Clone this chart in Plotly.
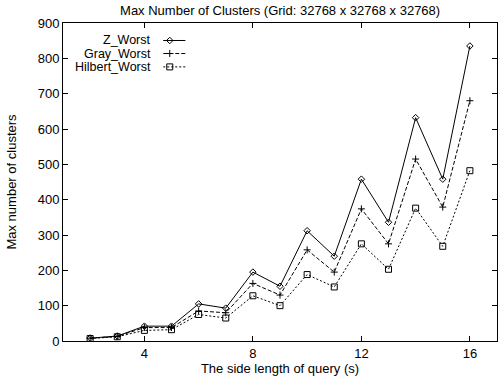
import plotly.graph_objects as go

# Query side length s
side = [2, 3, 4, 5, 6, 7, 8, 9, 10, 11, 12, 13, 14, 15, 16]

# Worst-case cluster counts per curve
z_worst = [8, 14, 42, 42, 105, 93, 195, 155, 312, 240, 458, 336, 632, 458, 835]
gray_worst = [8, 13, 38, 38, 85, 80, 163, 130, 258, 195, 374, 275, 515, 379, 680]
hilbert_worst = [7, 12, 30, 32, 75, 65, 128, 100, 188, 153, 275, 203, 376, 268, 482]

x_ticks = [4, 8, 12, 16]
y_ticks = [0, 100, 200, 300, 400, 500, 600, 700, 800, 900]

names = ["Z_Worst", "Gray_Worst", "Hilbert_Worst"]
dashes = ["solid", "4px,2px", "2px,2px"]
symbols = ["diamond-open", "cross-thin-open", "square-open"]
sizes = [5, 5, 6]
series = [z_worst, gray_worst, hilbert_worst]

FONT = "Liberation Sans, Arial, sans-serif"

fig = go.Figure()
for name, vals, dash, sym, sz in zip(names, series, dashes, symbols, sizes):
    fig.add_trace(go.Scatter(
        x=side, y=vals, name=name, mode="lines+markers",
        line=dict(color="black", width=1, dash=dash),
        marker=dict(symbol=sym, size=sz, color="black",
                    line=dict(color="black", width=1)),
        showlegend=False,
    ))

# Key in the upper-left corner: right-aligned labels followed by a line sample
key_y = [0.945, 0.904, 0.862]
for name, ky, dash, sym, sz in zip(names, key_y, dashes, symbols, sizes):
    fig.add_annotation(x=0.207, y=ky, xref="paper", yref="paper",
                       text=name, showarrow=False, xanchor="right",
                       yanchor="middle", font=dict(family=FONT, size=12.5, color="black"))
    fig.add_trace(go.Scatter(
        x=[0.231, 0.282], y=[ky, ky], xaxis="x2", yaxis="y2",
        mode="lines", line=dict(color="black", width=1, dash=dash),
        showlegend=False, hoverinfo="skip"))
    fig.add_trace(go.Scatter(
        x=[0.246], y=[ky], xaxis="x2", yaxis="y2", mode="markers",
        marker=dict(symbol=sym, size=sz, color="black",
                    line=dict(color="black", width=1)),
        showlegend=False, hoverinfo="skip"))

axis_common = dict(
    showgrid=False, zeroline=False, showline=True, linecolor="black",
    linewidth=1, mirror="ticks", ticks="inside", ticklen=5,
    tickcolor="black", tickfont=dict(family=FONT, size=13, color="black"),
)

fig.update_layout(
    width=498, height=379,
    margin=dict(l=63, r=1, t=23, b=38),
    paper_bgcolor="white", plot_bgcolor="white",
    title=dict(text="Max Number of Clusters (Grid: 32768 x 32768 x 32768)",
               x=0.5625, xanchor="center", y=0.973, yanchor="middle",
               font=dict(family=FONT, size=13, color="black")),
    xaxis=dict(range=[1, 17], tickvals=x_ticks,
               title=dict(text="The side length of query (s)", standoff=1,
                          font=dict(family=FONT, size=13, color="black")),
               **axis_common),
    yaxis=dict(range=[0, 900], tickvals=y_ticks,
               title=dict(text="Max number of clusters", standoff=18,
                          font=dict(family=FONT, size=13, color="black")),
               **axis_common),
    xaxis2=dict(range=[0, 1], overlaying="x", visible=False, domain=[0, 1]),
    yaxis2=dict(range=[0, 1], overlaying="y", visible=False),
)

fig.write_html("out.html")
